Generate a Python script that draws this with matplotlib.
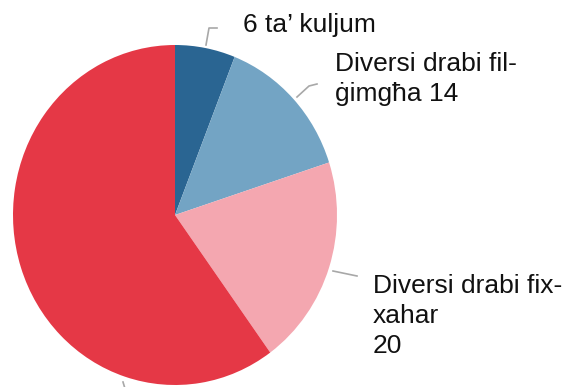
import matplotlib.pyplot as plt
from matplotlib.lines import Line2D

# quanti drabi - kategoriji u valuri
labels = ["6 ta\u2019 kuljum", "Diversi drabi fil-\n\u0121img\u0127a 14", "Diversi drabi fix-\nxahar\n20", ""]
values = [6, 14, 20, 60]
colors = ["#2a6592", "#73a4c4", "#f4a7b0", "#e53846"]

W, H = 566, 387
fig = plt.figure(figsize=(W / 100, H / 100), dpi=100)
plt.rcParams['font.family'] = ['Liberation Sans', 'DejaVu Sans']


def px(x, y):
    # pixel (mill-fuq) -> frazzjoni tal-figura
    return x / W, 1 - y / H


# il-pie: mhux tond ghal kollox, ftit itwal milli wiesa'
ax = fig.add_axes([13 / W, (H - 385) / H, 324 / W, 340 / H])
ax.pie(values, colors=colors, startangle=90, counterclock=False,
       wedgeprops=dict(linewidth=0))
ax.set_aspect('auto')
ax.set_xlim(-1, 1)
ax.set_ylim(-1, 1)

# linji li jwasslu ghat-tikketti
leaders = [
    [(206, 45), (209, 28), (217, 28)],
    [(297, 97), (309, 86), (317, 84)],
    [(333, 271), (357, 276)],
    [(123, 382), (126, 392)],
]
for pts in leaders:
    xs, ys = zip(*[px(x, y) for x, y in pts])
    fig.add_artist(Line2D(xs, ys, color="#a8a8a8", lw=1.2))

# tikketti (xellug, baseline tal-ahhar linja)
label_pos = [(243, 32), (335, 101), (373, 353)]
for lab, (x, y) in zip(labels, label_pos):
    fx, fy = px(x, y)
    fig.text(fx, fy, lab, fontsize=19, ha='left', va='baseline',
             linespacing=1.31, color="#111111")

fig.savefig("out.png", dpi=100)
